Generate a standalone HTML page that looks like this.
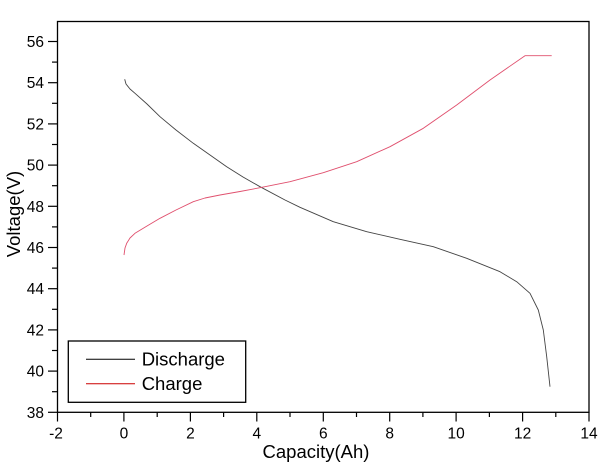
<!DOCTYPE html>
<html>
<head>
<meta charset="utf-8">
<style>
  html, body { margin: 0; padding: 0; background: #fff; }
  svg { display: block; }
  text { font-family: "Liberation Sans", Arial, sans-serif; fill: #000; }
</style>
</head>
<body>
<svg width="607" height="471" viewBox="0 0 607 471" xmlns="http://www.w3.org/2000/svg">
  <rect x="0" y="0" width="607" height="471" fill="#fff"/>

  <!-- curves -->
  <polyline fill="none" stroke="#444" stroke-width="0.9" stroke-linejoin="round"
    points="124.7,79.3 126,84 130,89 135,93.3 147,104 160,116.7 176,130 193.3,143.3 210,155 226.7,166.7 243,177 260,186.7 285,200 300,207.3 333.3,221.7 366.7,231.7 400,239.3 433.3,246.7 466.7,258.3 500,271.7 516.7,281.7 530,293.3 538.3,310 543.3,330 546.7,356.7 550,386.7"/>
  <polyline fill="none" stroke="#e0506e" stroke-width="0.9" stroke-linejoin="round"
    points="124,255 125,248 126.7,243.3 130,238 135,233.3 147,226 160,218.3 176,210 193.3,201.7 205,198 220,195 240,191.5 260,187.7 290,181.7 323.3,172.7 356.7,161.7 390,146.7 423.3,128.3 456.7,105 490,80 525,55.7 551.7,55.7"/>

  <!-- frame -->
  <rect x="57.5" y="21.5" width="531.5" height="390.8" fill="none" stroke="#000" stroke-width="1.3"/>

  <!-- y ticks -->
  <g stroke="#000" stroke-width="1.2">
    <line x1="48" y1="412.3" x2="57.5" y2="412.3"/>
    <line x1="48" y1="371.1" x2="57.5" y2="371.1"/>
    <line x1="48" y1="329.9" x2="57.5" y2="329.9"/>
    <line x1="48" y1="288.7" x2="57.5" y2="288.7"/>
    <line x1="48" y1="247.5" x2="57.5" y2="247.5"/>
    <line x1="48" y1="206.3" x2="57.5" y2="206.3"/>
    <line x1="48" y1="165.1" x2="57.5" y2="165.1"/>
    <line x1="48" y1="123.9" x2="57.5" y2="123.9"/>
    <line x1="48" y1="82.7" x2="57.5" y2="82.7"/>
    <line x1="48" y1="41.5" x2="57.5" y2="41.5"/>
    <!-- minor -->
    <line x1="52" y1="391.7" x2="57.5" y2="391.7"/>
    <line x1="52" y1="350.5" x2="57.5" y2="350.5"/>
    <line x1="52" y1="309.3" x2="57.5" y2="309.3"/>
    <line x1="52" y1="268.1" x2="57.5" y2="268.1"/>
    <line x1="52" y1="226.9" x2="57.5" y2="226.9"/>
    <line x1="52" y1="185.7" x2="57.5" y2="185.7"/>
    <line x1="52" y1="144.5" x2="57.5" y2="144.5"/>
    <line x1="52" y1="103.3" x2="57.5" y2="103.3"/>
    <line x1="52" y1="62.1" x2="57.5" y2="62.1"/>
  </g>

  <!-- x ticks -->
  <g stroke="#000" stroke-width="1.2">
    <line x1="57.5" y1="412.3" x2="57.5" y2="421.5"/>
    <line x1="123.9" y1="412.3" x2="123.9" y2="421.5"/>
    <line x1="190.4" y1="412.3" x2="190.4" y2="421.5"/>
    <line x1="256.8" y1="412.3" x2="256.8" y2="421.5"/>
    <line x1="323.3" y1="412.3" x2="323.3" y2="421.5"/>
    <line x1="389.7" y1="412.3" x2="389.7" y2="421.5"/>
    <line x1="456.1" y1="412.3" x2="456.1" y2="421.5"/>
    <line x1="522.6" y1="412.3" x2="522.6" y2="421.5"/>
    <line x1="589" y1="412.3" x2="589" y2="421.5"/>
    <!-- minor -->
    <line x1="90.7" y1="412.3" x2="90.7" y2="417"/>
    <line x1="157.2" y1="412.3" x2="157.2" y2="417"/>
    <line x1="223.6" y1="412.3" x2="223.6" y2="417"/>
    <line x1="290" y1="412.3" x2="290" y2="417"/>
    <line x1="356.5" y1="412.3" x2="356.5" y2="417"/>
    <line x1="422.9" y1="412.3" x2="422.9" y2="417"/>
    <line x1="489.4" y1="412.3" x2="489.4" y2="417"/>
    <line x1="555.8" y1="412.3" x2="555.8" y2="417"/>
  </g>

  <!-- y tick labels -->
  <g font-size="15.5" text-anchor="end">
    <text x="44" y="417.8">38</text>
    <text x="44" y="376.6">40</text>
    <text x="44" y="335.4">42</text>
    <text x="44" y="294.2">44</text>
    <text x="44" y="253">46</text>
    <text x="44" y="211.8">48</text>
    <text x="44" y="170.6">50</text>
    <text x="44" y="129.4">52</text>
    <text x="44" y="88.2">54</text>
    <text x="44" y="47">56</text>
  </g>

  <!-- x tick labels -->
  <g font-size="15.5" text-anchor="middle">
    <text x="56" y="438.5">-2</text>
    <text x="123.9" y="438.5">0</text>
    <text x="190.4" y="438.5">2</text>
    <text x="256.8" y="438.5">4</text>
    <text x="323.3" y="438.5">6</text>
    <text x="389.7" y="438.5">8</text>
    <text x="456.1" y="438.5">10</text>
    <text x="522.6" y="438.5">12</text>
    <text x="589" y="438.5">14</text>
  </g>

  <!-- axis titles -->
  <text x="316" y="458" font-size="18.5" text-anchor="middle">Capacity(Ah)</text>
  <text transform="translate(20,214) rotate(-90)" font-size="18.5" text-anchor="middle">Voltage(V)</text>

  <!-- legend -->
  <rect x="68.3" y="341" width="177.4" height="61.3" fill="#fff" stroke="#000" stroke-width="1.3"/>
  <line x1="86" y1="359.3" x2="135" y2="359.3" stroke="#000" stroke-width="1"/>
  <line x1="86" y1="383.7" x2="135" y2="383.7" stroke="#cc0000" stroke-width="1"/>
  <text x="141.7" y="365.7" font-size="18.5">Discharge</text>
  <text x="141.7" y="390" font-size="18.5">Charge</text>
</svg>
</body>
</html>
